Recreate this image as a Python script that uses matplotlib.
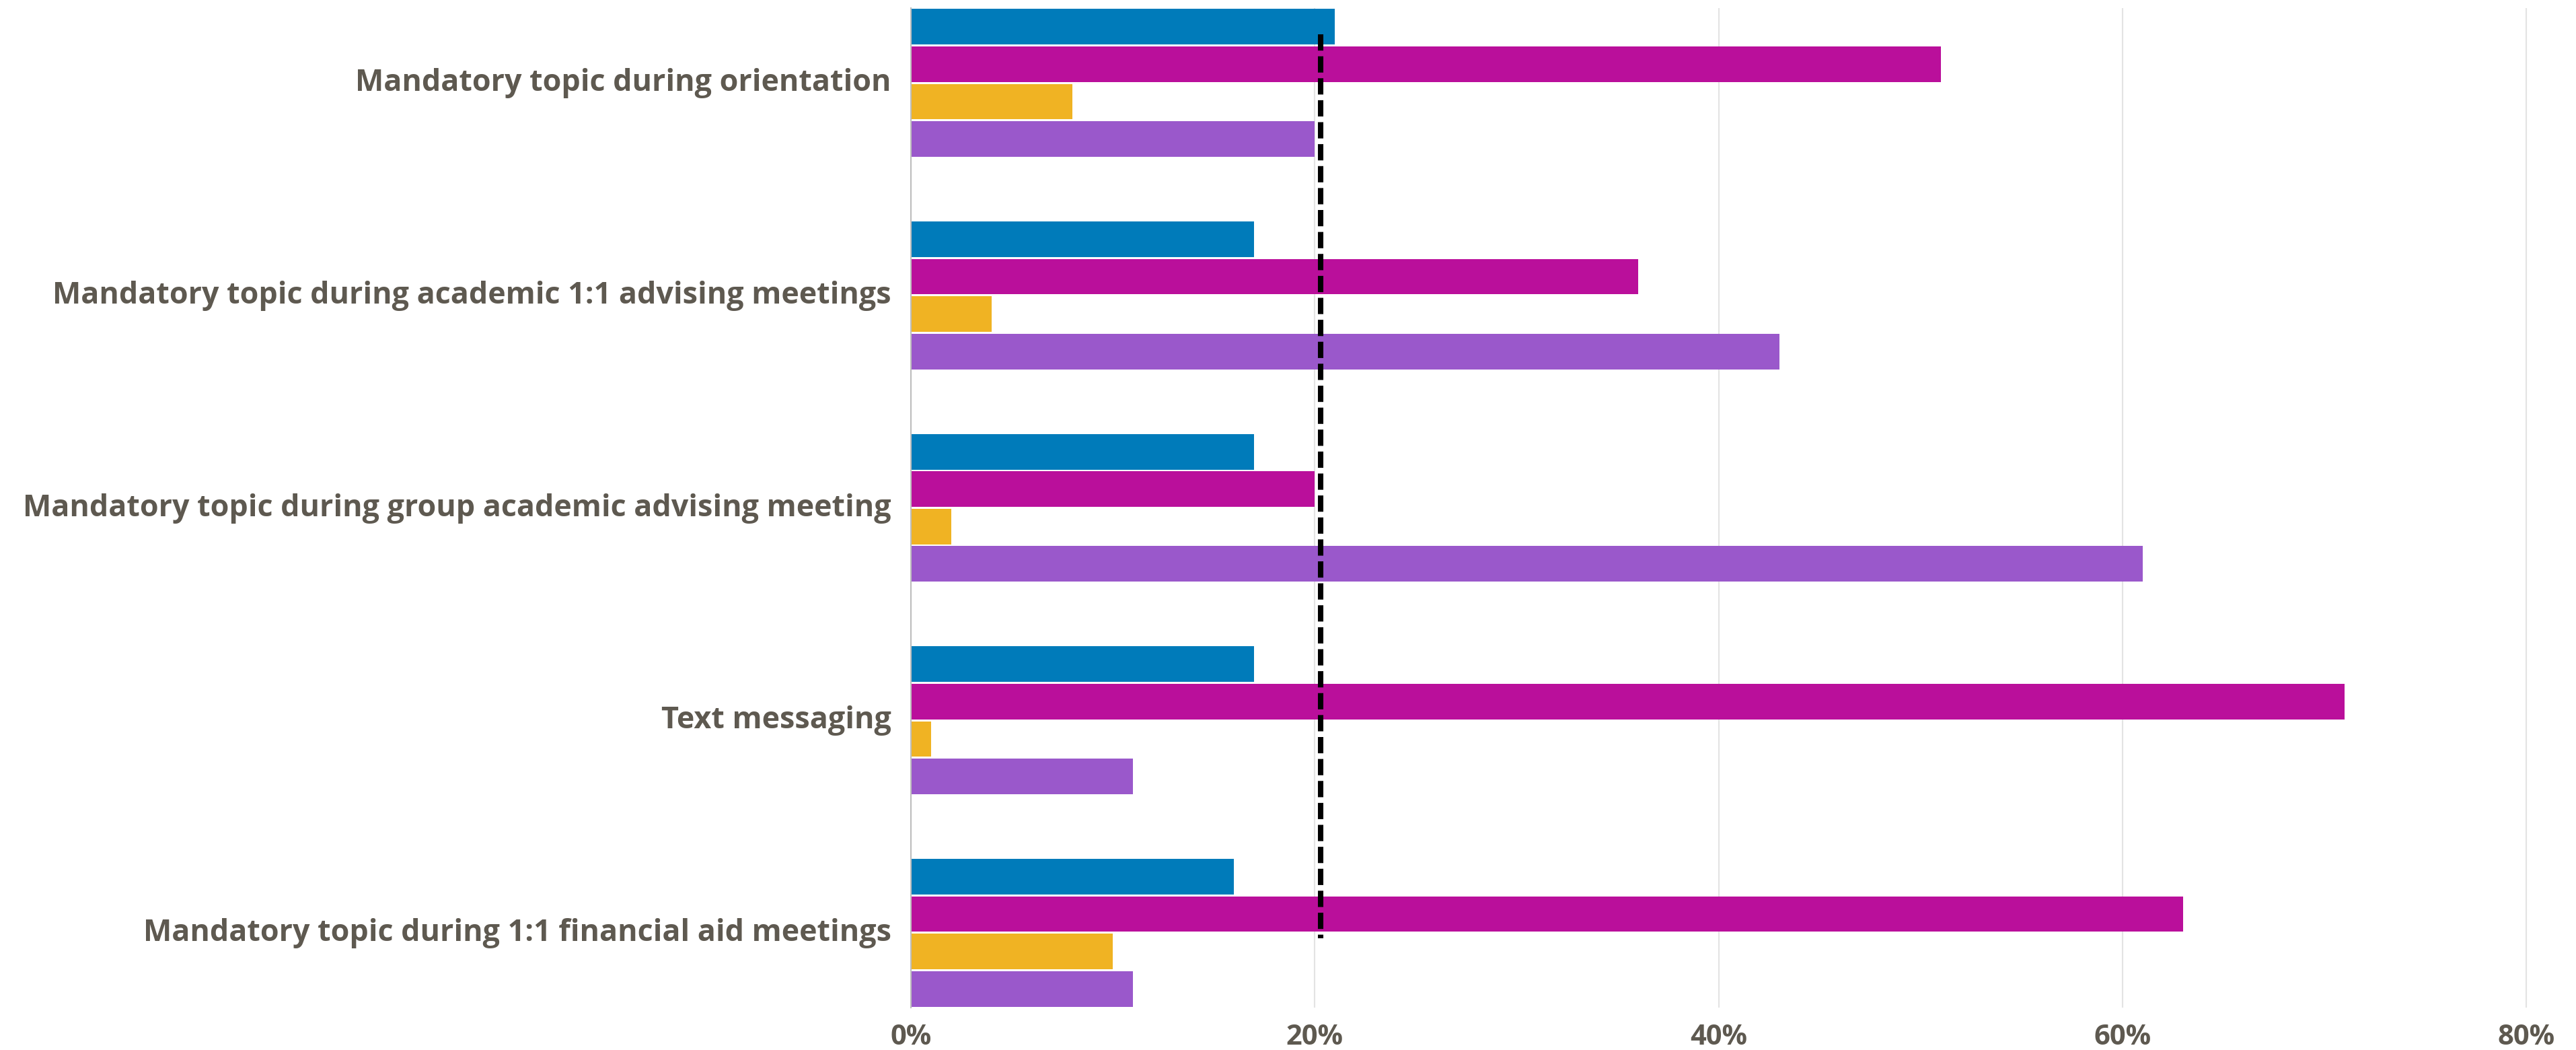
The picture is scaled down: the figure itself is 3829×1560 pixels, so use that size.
import matplotlib
matplotlib.use("Agg")
import matplotlib.pyplot as plt
import matplotlib.transforms as mtransforms
import numpy as np

# chart data (percent)
categories = [
    "Mandatory topic during orientation",
    "Mandatory topic during academic 1:1 advising meetings",
    "Mandatory topic during group academic advising meeting",
    "Text messaging",
    "Mandatory topic during 1:1 financial aid meetings",
]
series_blue = [21, 17, 17, 17, 16]
series_magenta = [51, 36, 20, 71, 63]
series_yellow = [8, 4, 2, 1, 10]
series_purple = [20, 43, 61, 11, 11]
reference_value = 20.3
x_ticks = [0, 20, 40, 60, 80]
x_tick_labels = ["0%", "20%", "40%", "60%", "80%"]

colors = ["#007bba", "#ba0f9b", "#f0b323", "#9a58cb"]
text_color = "#5e5950"

plt.rcParams["font.family"] = ["Open Sans", "DejaVu Sans"]

fig = plt.figure(figsize=(38.29, 15.60), dpi=100)
ax = fig.add_axes([1354 / 3829, 63 / 1560, 1 - 1354 / 3829, 1485 / 1560])

y = np.arange(len(categories))
slot = 0.176
all_series = [series_blue, series_magenta, series_yellow, series_purple]
for i, (vals, col) in enumerate(zip(all_series, colors)):
    ax.barh(y + (i - 1.5) * slot, vals, height=slot - 0.009, color=col, zorder=3)

# dashed reference line
ax.vlines(reference_value, -0.23, 4.025, colors="black", linewidth=5.8,
          linestyles=(0, (3, 1.05)), zorder=4, capstyle="butt")

ax.set_ylim(len(categories) - 1 + 0.352, -0.352)
ax.set_xlim(0, 82.46)
ax.set_xticks(x_ticks)
ax.set_xticklabels(x_tick_labels)
ax.set_yticks(y)
ax.set_yticklabels(categories)

ax.grid(axis="x", color="#e3e3e3", linewidth=1.5, zorder=0)
for s in ["top", "right", "bottom"]:
    ax.spines[s].set_visible(False)
ax.spines["left"].set_color("#bdbdbd")
ax.spines["left"].set_linewidth(1.5)
ax.spines["left"].set_zorder(5)

ax.tick_params(axis="both", length=0, labelcolor=text_color)
ax.tick_params(axis="y", pad=21, labelsize=32.3)
ax.tick_params(axis="x", pad=17, labelsize=30)
shift = mtransforms.ScaledTranslation(0, 5 / 100, fig.dpi_scale_trans)
for lab in ax.get_yticklabels():
    lab.set_fontweight("bold")
    lab.set_transform(lab.get_transform() + shift)
for lab in ax.get_xticklabels():
    lab.set_fontweight("bold")

fig.savefig("out.png", dpi=100, facecolor="white")
